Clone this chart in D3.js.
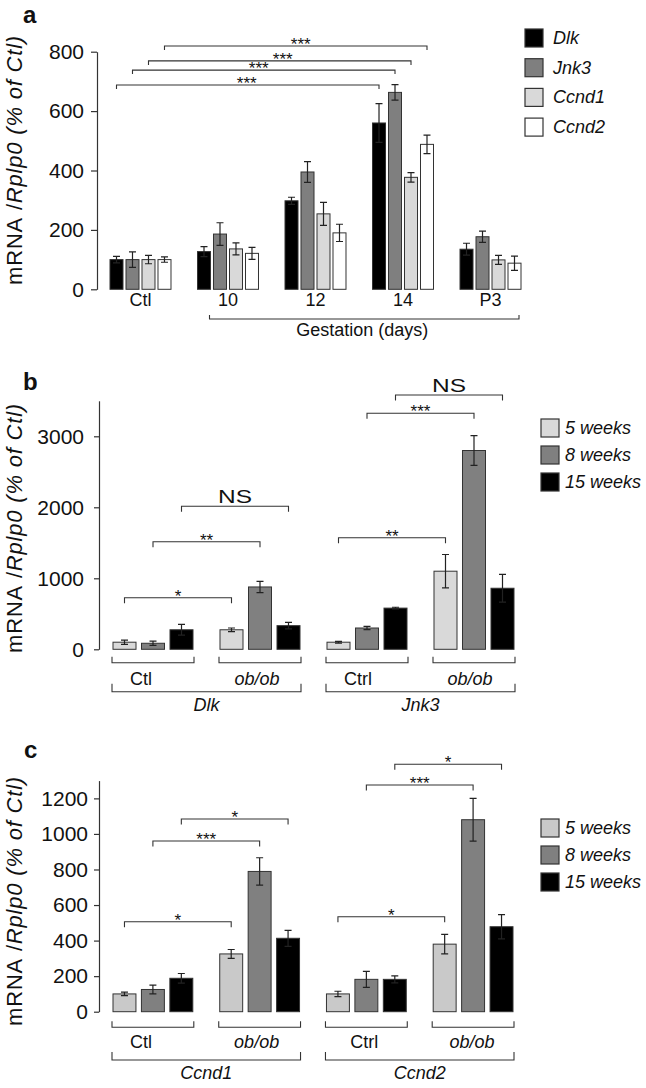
<!DOCTYPE html>
<html><head><meta charset="utf-8">
<script src="https://cdn.jsdelivr.net/npm/d3@7"></script>
<style>
body{margin:0;background:#fff}
svg{display:block}
text{font-family:"Liberation Sans",Arial,sans-serif;fill:#111}
</style>
</head><body>
<svg id="chart" width="646" height="1088"></svg>
<script>
// ---------- Panel a data ----------
const groupsA = ["Ctl", "10", "12", "14", "P3"];
const seriesA = ["Dlk", "Jnk3", "Ccnd1", "Ccnd2"];
const dlkA    = [100, 127, 298, 560, 135];
const dlkErrA = [11, 17, 12, 65, 20];
const jnk3A    = [100, 186, 395, 663, 177];
const jnk3ErrA = [26, 38, 35, 26, 19];
const ccnd1A    = [100, 136, 254, 377, 99];
const ccnd1ErrA = [14, 20, 39, 16, 15];
const ccnd2A    = [100, 121, 190, 488, 88];
const ccnd2ErrA = [9, 20, 29, 31, 24];
const ticksA = [0, 200, 400, 600, 800];
// brackets: [group, series] -> [group, series], level (data units), label
const bracketsA = [
  {a:[0,3], b:[3,3], level:819, label:"***"},
  {a:[0,2], b:[3,2], level:769, label:"***"},
  {a:[0,1], b:[3,1], level:738, label:"***"},
  {a:[0,0], b:[3,0], level:688, label:"***"}
];

// ---------- Panel b data ----------
const groupsB = ["Dlk Ctl", "Dlk ob/ob", "Jnk3 Ctrl", "Jnk3 ob/ob"];
const subLabelsB = ["Ctl", "ob/ob", "Ctrl", "ob/ob"];
const genesB = ["Dlk", "Jnk3"];
const weeks = ["5 weeks", "8 weeks", "15 weeks"];
const w5B  = [100, 275, 100, 1100];
const w5ErrB = [30, 25, 12, 235];
const w8B  = [85, 878, 300, 2800];
const w8ErrB = [30, 80, 22, 210];
const w15B = [275, 333, 580, 860];
const w15ErrB = [75, 45, 12, 196];
const ticksB = [0, 1000, 2000, 3000];
const bracketsB = [
  {a:[0,0], b:[1,0], level:727,  label:"*"},
  {a:[0,1], b:[1,1], level:1515, label:"**"},
  {a:[0,2], b:[1,2], level:2014, label:"NS"},
  {a:[2,0], b:[3,0], level:1572, label:"**"},
  {a:[2,1], b:[3,1], level:3324, label:"***"},
  {a:[2,2], b:[3,2], level:3582, label:"NS"}
];

// ---------- Panel c data ----------
const groupsC = ["Ccnd1 Ctl", "Ccnd1 ob/ob", "Ccnd2 Ctrl", "Ccnd2 ob/ob"];
const subLabelsC = ["Ctl", "ob/ob", "Ctrl", "ob/ob"];
const genesC = ["Ccnd1", "Ccnd2"];
const w5C  = [100, 325, 100, 380];
const w5ErrC = [10, 25, 15, 55];
const w8C  = [125, 789, 182, 1080];
const w8ErrC = [25, 77, 45, 120];
const w15C = [188, 413, 182, 478];
const w15ErrC = [27, 45, 20, 68];
const ticksC = [0, 200, 400, 600, 800, 1000, 1200];
const bracketsC = [
  {a:[0,0], b:[1,0], level:506,  label:"*"},
  {a:[0,1], b:[1,1], level:960,  label:"***"},
  {a:[0,2], b:[1,2], level:1084, label:"*"},
  {a:[2,0], b:[3,0], level:534,  label:"*"},
  {a:[2,1], b:[3,1], level:1275, label:"***"},
  {a:[2,2], b:[3,2], level:1392, label:"*"}
];

const svg = d3.select("#chart");
const STROKE = "#333";

function drawPanel(o) {
  const g = svg.append("g");
  const y = d3.scaleLinear().domain(o.domain).range(o.yRange);
  const x0 = d3.scaleBand().domain(o.groups).range(o.xRange).paddingInner(o.padGroup).paddingOuter(0);
  const x1 = d3.scaleBand().domain(o.series).range([0, x0.bandwidth()]).paddingInner(o.padBar).paddingOuter(0);
  const bw = x1.bandwidth();
  const cx = (gi, si) => x0(o.groups[gi]) + x1(o.series[si]) + bw / 2;

  // panel letter
  g.append("text").attr("x", o.letterPos[0]).attr("y", o.letterPos[1])
    .attr("font-size", 24).attr("font-weight", "bold").text(o.letter);

  // y axis
  const axis = d3.axisLeft(y).tickValues(o.ticks).tickSize(o.tickLen).tickSizeOuter(0)
    .tickPadding(o.tickPad).tickFormat(d3.format("d"));
  const ag = g.append("g").attr("transform", `translate(${o.axisX},0)`).call(axis);
  ag.select(".domain").attr("stroke", STROKE).attr("stroke-width", 1.2);
  ag.selectAll(".tick line").attr("stroke", STROKE).attr("stroke-width", 1.2);
  ag.selectAll(".tick text").attr("font-size", 21).attr("fill", "#111")
    .style("font-family", '"Liberation Sans",Arial,sans-serif');

  // y title
  const yt = g.append("text").attr("transform", `translate(22,${o.titleY}) rotate(-90)`)
    .attr("text-anchor", "middle").attr("font-size", 22).attr("letter-spacing", 0.8);
  yt.append("tspan").text("mRNA\u00a0/");
  yt.append("tspan").attr("font-style", "italic").text("Rplp0 (% of Ctl)");

  // bars
  o.groups.forEach((grp, gi) => {
    o.series.forEach((s, si) => {
      const v = o.values[si][gi], e = o.errors[si][gi];
      const bx = x0(grp) + x1(s);
      g.append("rect").attr("x", bx).attr("y", y(v)).attr("width", bw)
        .attr("height", y(0) - y(v)).attr("fill", o.colors[si])
        .attr("stroke", STROKE).attr("stroke-width", 1);
      const c = bx + bw / 2;
      const hi = y(v + e), lo = y(Math.max(0, v - e));
      const capW = 3.5;
      g.append("path").attr("d", `M${c},${lo}V${hi}M${c - capW},${hi}H${c + capW}M${c - capW},${lo}H${c + capW}`)
        .attr("stroke", "#222").attr("stroke-width", 1.2).attr("fill", "none");
    });
  });

  // significance brackets
  o.brackets.forEach((br, bi) => {
    const xa = cx(br.a[0], br.a[1]), xb = cx(br.b[0], br.b[1]);
    const yl = y(br.level);
    g.append("path").attr("d", `M${xa},${yl + o.brTick}V${yl}H${xb}V${yl + o.brTick}`)
      .attr("stroke", STROKE).attr("stroke-width", 1.1).attr("fill", "none");
    const mx = (xa + xb) / 2 + (o.labelDx ? o.labelDx[bi] : 0);
    if (br.label === "NS") {
      g.append("text").attr("x", mx).attr("y", yl - 3).attr("text-anchor", "middle")
        .attr("font-size", 18).attr("textLength", 34).attr("lengthAdjust", "spacingAndGlyphs")
        .text("NS");
    } else {
      g.append("text").attr("x", mx).attr("y", yl + 4).attr("text-anchor", "middle")
        .attr("font-size", 17).text(br.label);
    }
  });

  // legend
  o.series.forEach((s, si) => {
    const ly = o.legendY + si * o.legendStep;
    g.append("rect").attr("x", o.legendX).attr("y", ly).attr("width", 18).attr("height", 18)
      .attr("fill", o.colors[si]).attr("stroke", STROKE).attr("stroke-width", 1.2);
    g.append("text").attr("x", o.legendX + o.legendTextDx).attr("y", ly + 15)
      .attr("font-size", 18).attr("font-style", "italic").text(s);
  });

  return {g, y, x0, x1};
}

// ---------- Panel a ----------
const pa = drawPanel({
  letter: "a", letterPos: [23, 23],
  groups: groupsA, series: seriesA,
  values: [dlkA, jnk3A, ccnd1A, ccnd2A],
  errors: [dlkErrA, jnk3ErrA, ccnd1ErrA, ccnd2ErrA],
  colors: ["#000000", "#7f7f7f", "#d9d9d9", "#ffffff"],
  domain: [0, 800], yRange: [289.3, 51.7], ticks: ticksA,
  xRange: [110, 521], padGroup: 0.303, padBar: 0.1875,
  axisX: 97, tickLen: 6, tickPad: 7, titleY: 160,
  brackets: bracketsA, brTick: 4, labelDx: [5, 3, -5, -1],
  legendX: 525, legendY: 29, legendStep: 29.7, legendTextDx: 28
});
groupsA.forEach(gname => {
  pa.g.append("text").attr("x", pa.x0(gname) + pa.x0.bandwidth() / 2).attr("y", 306)
    .attr("text-anchor", "middle").attr("font-size", 18).text(gname);
});
{
  const xl = pa.x0("10") + 12, xr = pa.x0("P3") + pa.x0.bandwidth() - 2;
  pa.g.append("path").attr("d", `M${xl},315V319H${xr}V315`).attr("stroke", STROKE)
    .attr("stroke-width", 1.1).attr("fill", "none");
  pa.g.append("text").attr("x", (xl + xr) / 2 - 2).attr("y", 336).attr("text-anchor", "middle")
    .attr("font-size", 18).text("Gestation (days)");
}

// ---------- helper for b/c lower labels ----------
function lowerLabels(p, groups, subs, genes, subY, subLabelY, bigY, geneY, subDx) {
  const bwG = p.x0.bandwidth();
  groups.forEach((gname, gi) => {
    const xs = p.x0(gname) - 1, xe = p.x0(gname) + bwG + 1;
    p.g.append("path").attr("d", `M${xs},${subY - 6}V${subY}H${xe}V${subY - 6}`)
      .attr("stroke", STROKE).attr("stroke-width", 1.1).attr("fill", "none");
    p.g.append("text").attr("x", (xs + xe) / 2 + subDx[gi]).attr("y", subLabelY)
      .attr("text-anchor", "middle").attr("font-size", 18)
      .attr("font-style", subs[gi] === "ob/ob" ? "italic" : "normal").text(subs[gi]);
  });
  genes.forEach((gene, k) => {
    const xs = p.x0(groups[2 * k]) - 1, xe = p.x0(groups[2 * k + 1]) + bwG + 1;
    p.g.append("path").attr("d", `M${xs},${bigY - 8}V${bigY}H${xe}V${bigY - 8}`)
      .attr("stroke", STROKE).attr("stroke-width", 1.1).attr("fill", "none");
    p.g.append("text").attr("x", (xs + xe) / 2).attr("y", geneY).attr("text-anchor", "middle")
      .attr("font-size", 18).attr("font-style", "italic").text(gene);
  });
}

// ---------- Panel b ----------
const pb = drawPanel({
  letter: "b", letterPos: [23, 390],
  groups: groupsB, series: weeks,
  values: [w5B, w8B, w15B], errors: [w5ErrB, w8ErrB, w15ErrB],
  colors: ["#d9d9d9", "#808080", "#000000"],
  domain: [0, 3500], yRange: [649.3, 400.8], ticks: ticksB,
  xRange: [113, 514], padGroup: 0.2523, padBar: 0.193,
  axisX: 99, tickLen: 5, tickPad: 10, titleY: 528,
  brackets: bracketsB, brTick: 5.5,
  legendX: 541, legendY: 419, legendStep: 27, legendTextDx: 24
});
lowerLabels(pb, groupsB, subLabelsB, genesB, 662.7, 685, 691.7, 711, [-12, -3, -9, -4]);

// ---------- Panel c ----------
const pc = drawPanel({
  letter: "c", letterPos: [24, 758],
  groups: groupsC, series: weeks,
  values: [w5C, w8C, w15C], errors: [w5ErrC, w8ErrC, w15ErrC],
  colors: ["#c9c9c9", "#808080", "#000000"],
  domain: [0, 1300], yRange: [1011.7, 780.6], ticks: ticksC,
  xRange: [113, 513], padGroup: 0.2523, padBar: 0.193,
  axisX: 99, tickLen: 5, tickPad: 6, titleY: 901,
  brackets: bracketsC, brTick: 5.5,
  legendX: 541, legendY: 819, legendStep: 27, legendTextDx: 24
});
lowerLabels(pc, groupsC, subLabelsC, genesC, 1027.3, 1048, 1060, 1079, [-12, -3, -2, -1]);
</script>
</body></html>
